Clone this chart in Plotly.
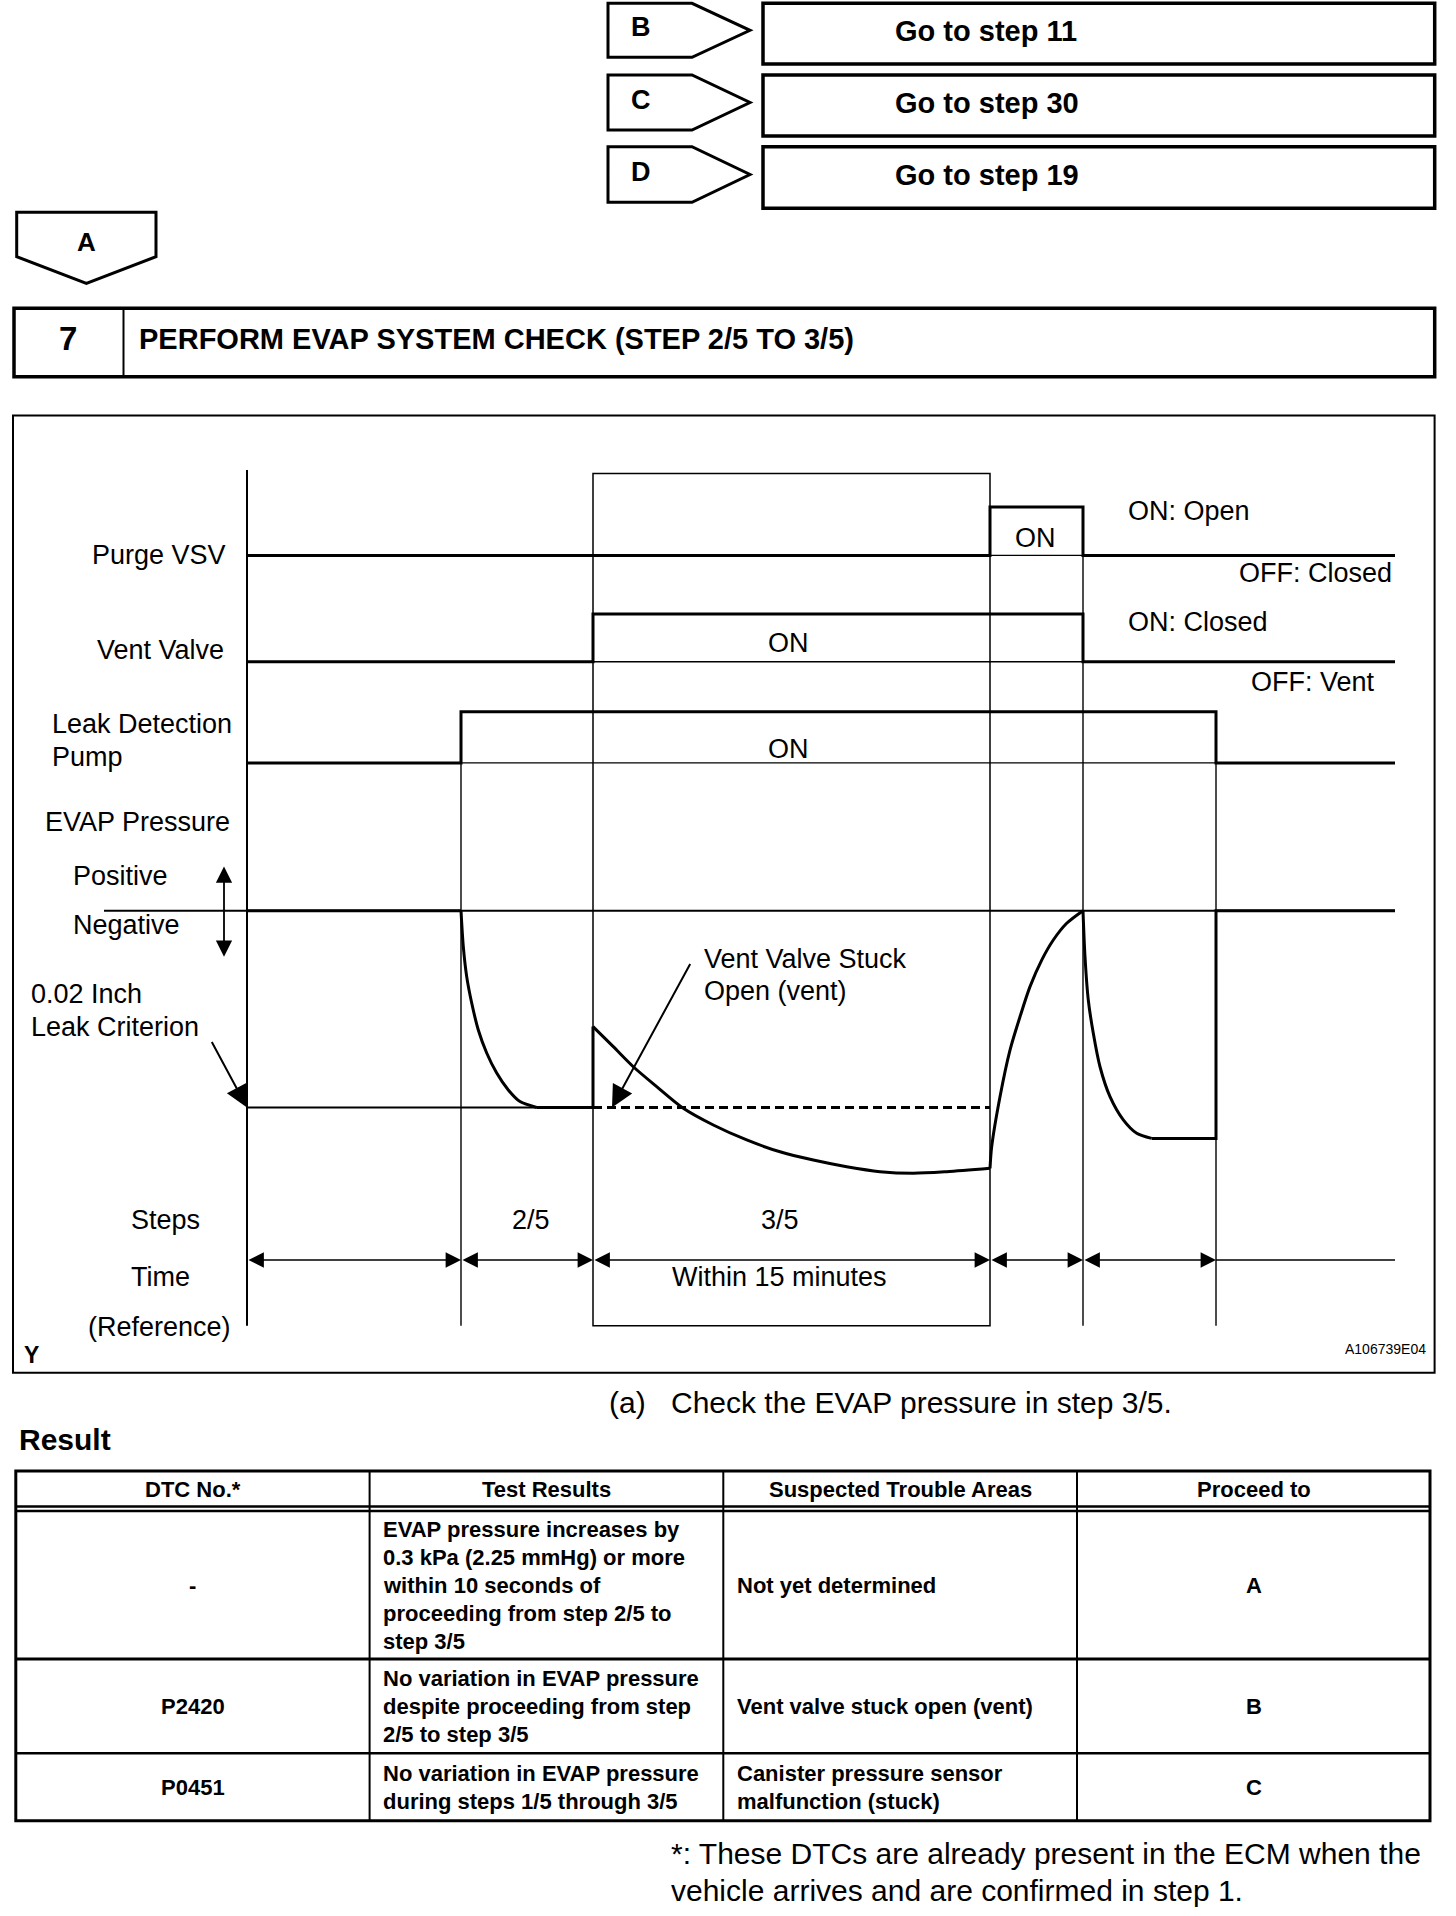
import plotly.graph_objects as go

W, H = 1456, 1916
FONT = "Liberation Sans, Arial, Helvetica, sans-serif"

# ---------------- data ----------------
branch_letters = ["B", "C", "D"]
branch_targets = ["Go to step 11", "Go to step 30", "Go to step 19"]
continue_letter = "A"
step_number = "7"
step_title = "PERFORM EVAP SYSTEM CHECK (STEP 2/5 TO 3/5)"

# timing events (diagram time units)
event_t = [0, 214, 346, 743, 836, 969, 1148]
# step signals: 0 = OFF, 1 = ON
purge_t = [0, 743, 836, 1148]
purge_lv = [0, 1, 0, 0]
vent_t = [0, 346, 836, 1148]
vent_lv = [0, 1, 0, 0]
pump_t = [0, 214, 969, 1148]
pump_lv = [0, 1, 0, 0]

# EVAP pressure: 0 = atmospheric, -1 = 0.02 inch leak criterion
p_pre_t = [0, 214]
p_pre = [0, 0]
p_step2_t = [214, 216.3, 219.7, 224.7, 231.3, 239.7, 249.7, 261.3, 273, 289.7]
p_step2 = [0, -0.183, -0.335, -0.469, -0.606, -0.723, -0.825, -0.911, -0.970, -1.0]
p_hold_t = [289.7, 346, 346]
p_hold = [-1.0, -1.0, -0.589]
p_step3_t = [346, 366.3, 386.3, 409.7, 436.3, 466.3, 499.7, 533, 566.3, 599.7, 633, 666.3, 699.7, 743]
p_step3 = [-0.589, -0.691, -0.793, -0.894, -1.004, -1.089, -1.165, -1.225, -1.267, -1.301, -1.326, -1.334, -1.326, -1.309]
p_rise_t = [743, 744.7, 753, 763, 773, 783, 794.7, 806.3, 819.7, 836]
p_rise = [-1.309, -1.199, -0.945, -0.708, -0.539, -0.386, -0.251, -0.149, -0.064, 0]
p_decay_t = [836, 838, 841.3, 846.3, 853, 863, 876.3, 889.7, 904.7]
p_decay = [0, -0.234, -0.454, -0.623, -0.793, -0.945, -1.063, -1.131, -1.157]
p_post_t = [904.7, 969, 969, 1148]
p_post = [-1.157, -1.157, 0, 0]
stuck_t = [346, 743]
stuck_p = [-1.0, -1.0]
criterion_t = [0, 346]
criterion_p = [-1.0, -1.0]
baseline_t = [-143, 1148]
baseline_p = [0, 0]

step_labels = ["2/5", "3/5"]
time_note = "Within 15 minutes"

table_headers = ["DTC No.*", "Test Results", "Suspected Trouble Areas", "Proceed to"]
dtc_codes = ["-", "P2420", "P0451"]
test_results = [
    ["EVAP pressure increases by", "0.3 kPa (2.25 mmHg) or more", "within 10 seconds of",
     "proceeding from step 2/5 to", "step 3/5"],
    ["No variation in EVAP pressure", "despite proceeding from step", "2/5 to step 3/5"],
    ["No variation in EVAP pressure", "during steps 1/5 through 3/5"],
]
trouble_areas = [["Not yet determined"], ["Vent valve stuck open (vent)"],
                 ["Canister pressure sensor", "malfunction (stuck)"]]
proceed_to = ["A", "B", "C"]
footnote = ["*: These DTCs are already present in the ECM when the",
            "vehicle arrives and are confirmed in step 1."]

# ---------------- helpers ----------------
def px(x):
    return x / W


def py(y):
    return 1 - y / H


shapes = []
annotations = []


def line(x0, y0, x1, y1, w=2):
    shapes.append(dict(type="line", xref="paper", yref="paper", x0=px(x0), y0=py(y0),
                       x1=px(x1), y1=py(y1), line=dict(color="black", width=w)))


def rect(x0, y0, x1, y1, w=2):
    shapes.append(dict(type="rect", xref="paper", yref="paper", x0=px(x0), y0=py(y0),
                       x1=px(x1), y1=py(y1), line=dict(color="black", width=w),
                       fillcolor="rgba(0,0,0,0)"))


def poly(pts, w=3):
    d = "M " + " L ".join(f"{px(a):.5f},{py(b):.5f}" for a, b in pts) + " Z"
    shapes.append(dict(type="path", xref="paper", yref="paper", path=d,
                       line=dict(color="black", width=w)))


def text(x, y, s, size=27, anchor="left", bold=False):
    annotations.append(dict(xref="paper", yref="paper", x=px(x), y=py(y), text=s,
                            showarrow=False, xanchor=anchor, yanchor="middle",
                            align=anchor if anchor != "center" else "center",
                            font=dict(family=FONT, size=size, color="black",
                                      weight="bold" if bold else "normal")))


# ---------------- top navigation ----------------
nav_rows = [(3.3, 57.3, 64.0), (75.0, 130.0, 136.0), (146.7, 202.3, 208.3)]
for (top, bot, boxbot), letter, target in zip(nav_rows, branch_letters, branch_targets):
    mid = (top + bot) / 2
    poly([(608, top), (692, top), (750, mid), (692, bot), (608, bot)], w=3)
    rect(763, top, 1434.7, boxbot, w=3.5)
    text(641, mid - 3, letter, size=27, anchor="center", bold=True)
    text(893, (top + boxbot) / 2 - 3, target, size=29, bold=True)

poly([(16.7, 212.3), (156, 212.3), (156, 256.7), (86.4, 283.3), (16.7, 256.7)], w=3)
text(86.4, 242, continue_letter, size=26, anchor="center", bold=True)

rect(14, 308.3, 1434.7, 376.7, w=3.5)
line(123.5, 308.3, 123.5, 376.7, w=2)
text(68, 338, step_number, size=33, anchor="center", bold=True)
text(137, 339, step_title, size=29, bold=True)

# ---------------- chart frame ----------------
rect(13, 415.4, 1434.6, 1372.7, w=2)

T0 = 247  # pixel of time zero
BOTTOM = 1325.7

# vertical guide lines (data x, paper y)
def vline(t, ytop, w=1.4):
    shapes.append(dict(type="line", xref="x", yref="paper", x0=t, x1=t, y0=py(ytop),
                       y1=py(BOTTOM), line=dict(color="black", width=w)))

vline(event_t[0], 470, w=2)
vline(event_t[1], 712)
vline(event_t[4], 507)
vline(event_t[5], 712)
shapes.append(dict(type="rect", xref="x", yref="paper", x0=event_t[2], x1=event_t[3],
                   y0=py(473.6), y1=py(BOTTOM), line=dict(color="black", width=1.5),
                   fillcolor="rgba(0,0,0,0)"))

fig = go.Figure()

def tr(x, y, axis, w=3, shape="linear", dash="solid", smooth=None):
    ln = dict(color="black", width=w, shape=shape, dash=dash)
    if smooth is not None:
        ln["smoothing"] = smooth
    fig.add_trace(go.Scatter(x=x, y=y, yaxis=axis, mode="lines", line=ln,
                             hoverinfo="skip", showlegend=False))

# thin reference (OFF) lines under the ON periods
tr([purge_t[1], purge_t[2]], [0, 0], "y2", w=1.4)
tr([vent_t[1], vent_t[2]], [0, 0], "y3", w=1.4)
tr([pump_t[1], pump_t[2]], [0, 0], "y4", w=1.4)
# signals
tr(purge_t, purge_lv, "y2", w=3, shape="hv")
tr(vent_t, vent_lv, "y3", w=3, shape="hv")
tr(pump_t, pump_lv, "y4", w=3, shape="hv")

# pressure
tr(baseline_t, baseline_p, "y", w=2)
tr(criterion_t, criterion_p, "y", w=2)
tr(p_pre_t, p_pre, "y", w=3)
tr(p_step2_t, p_step2, "y", w=3, shape="spline", smooth=0.8)
tr(p_hold_t, p_hold, "y", w=3)
tr(p_step3_t, p_step3, "y", w=3, shape="spline", smooth=0.8)
tr(p_rise_t, p_rise, "y", w=3, shape="spline", smooth=0.8)
tr(p_decay_t, p_decay, "y", w=3, shape="spline", smooth=0.8)
tr(p_post_t, p_post, "y", w=3)
tr(stuck_t, stuck_p, "y", w=3, dash="9px,5px")

# time dimension arrows
TY = 1260
for a, b in zip(event_t[:5], event_t[1:6]):
    annotations.append(dict(xref="x", yref="paper", x=b, y=py(TY), axref="x", ayref="pixel",
                            ax=a, ay=0, text="", showarrow=True, arrowhead=2, startarrowhead=2,
                            arrowside="end+start", arrowsize=2.2, startarrowsize=2.2,
                            arrowwidth=1.4, arrowcolor="black", standoff=0, startstandoff=0))
shapes.append(dict(type="line", xref="x", yref="paper", x0=event_t[5], x1=event_t[6],
                   y0=py(TY), y1=py(TY), line=dict(color="black", width=1.4)))

# leak criterion pointer
annotations.append(dict(xref="x", yref="y", x=event_t[0], y=-1.0, ax=-36, ay=-67,
                        text="", showarrow=True, arrowhead=2, arrowsize=2.2, arrowwidth=2,
                        arrowcolor="black", standoff=0))
# vent valve stuck pointer
annotations.append(dict(xref="x", yref="y", x=365, y=-1.0, ax=79, ay=-145,
                        text="", showarrow=True, arrowhead=2, arrowsize=2.2, arrowwidth=2,
                        arrowcolor="black", standoff=0))
# positive / negative double arrow
annotations.append(dict(xref="paper", yref="paper", x=px(224), y=py(956.7), ax=0, ay=-91.7,
                        text="", showarrow=True, arrowhead=2, startarrowhead=2,
                        arrowside="end+start", arrowsize=1.8, startarrowsize=1.8,
                        arrowwidth=1.8, arrowcolor="black", standoff=0, startstandoff=0))

# chart labels
text(228, 555, "Purge VSV", anchor="right")
text(226, 650, "Vent Valve", anchor="right")
text(50, 724, "Leak Detection")
text(50, 757, "Pump")
text(43, 822, "EVAP Pressure")
text(71, 876, "Positive")
text(71, 925, "Negative")
text(29, 994, "0.02 Inch")
text(29, 1027, "Leak Criterion")
text(1035, 538, "ON", anchor="center")
text(1126, 511, "ON: Open")
text(1394, 573, "OFF: Closed", anchor="right")
text(788, 643, "ON", anchor="center")
text(1126, 622, "ON: Closed")
text(1377, 682, "OFF: Vent", anchor="right")
text(788, 749, "ON", anchor="center")
text(702, 959, "Vent Valve Stuck")
text(702, 991, "Open (vent)")
text(165, 1220, "Steps", anchor="center")
text(531, 1220, step_labels[0], anchor="center")
text(780, 1220, step_labels[1], anchor="center")
text(160, 1277, "Time", anchor="center")
text(779, 1277, time_note, anchor="center")
text(159, 1327, "(Reference)", anchor="center")
text(31.5, 1355, "Y", size=23, anchor="center", bold=True)
text(1428, 1349, "A106739E04", size=14, anchor="right")

# ---------------- below chart ----------------
text(607, 1402, "(a)", size=30)
text(669, 1402, "Check the EVAP pressure in step 3/5.", size=30)
text(17, 1439, "Result", size=30, bold=True)

col_x = [15.8, 369.6, 723.3, 1077, 1430]
row_y = [1511, 1659, 1753.3, 1820.7]
rect(col_x[0], 1471, col_x[-1], row_y[-1], w=3)
for cx in col_x[1:-1]:
    line(cx, 1471, cx, row_y[-1], w=2)
line(col_x[0], 1506.5, col_x[-1], 1506.5, w=2.5)
line(col_x[0], 1511, col_x[-1], 1511, w=2.5)
line(col_x[0], row_y[1], col_x[-1], row_y[1], w=3)
line(col_x[0], row_y[2], col_x[-1], row_y[2], w=2.5)

TF = 22
for i, h in enumerate(table_headers):
    text((col_x[i] + col_x[i + 1]) / 2, 1489, h, size=TF, anchor="center", bold=True)

PITCH = 28
for r in range(3):
    cy = (row_y[r] + row_y[r + 1]) / 2
    text((col_x[0] + col_x[1]) / 2, cy, dtc_codes[r], size=TF, anchor="center", bold=True)
    text((col_x[3] + col_x[4]) / 2, cy, proceed_to[r], size=TF, anchor="center", bold=True)
    for lines, x0 in ((test_results[r], 380.7), (trouble_areas[r], 735.4)):
        n = len(lines)
        for k, s in enumerate(lines):
            text(x0, cy + (k - (n - 1) / 2) * PITCH, s, size=TF, bold=True)

text(668.5, 1853, footnote[0], size=30)
text(668.5, 1890, footnote[1], size=30)

# ---------------- axes ----------------
def level_axis(p0, s, overlay=True):
    d = dict(domain=[0, 1], range=[-(H - p0) / s, p0 / s], visible=False, fixedrange=True)
    if overlay:
        d.update(overlaying="y", anchor="x")
    return d

fig.update_layout(
    width=W, height=H, margin=dict(l=0, r=0, t=0, b=0),
    paper_bgcolor="white", plot_bgcolor="white",
    xaxis=dict(domain=[0, 1], range=[-T0, W - T0], visible=False, fixedrange=True),
    yaxis=level_axis(910.7, 196.8, overlay=False),
    yaxis2=level_axis(555.4, 48.3),
    yaxis3=level_axis(661.8, 47.9),
    yaxis4=level_axis(762.9, 51.1),
    shapes=shapes, annotations=annotations, showlegend=False,
)

fig.write_html("out.html", config={"displayModeBar": False, "staticPlot": True},
               post_script="document.body.style.margin='0';document.body.style.overflow='hidden';")
